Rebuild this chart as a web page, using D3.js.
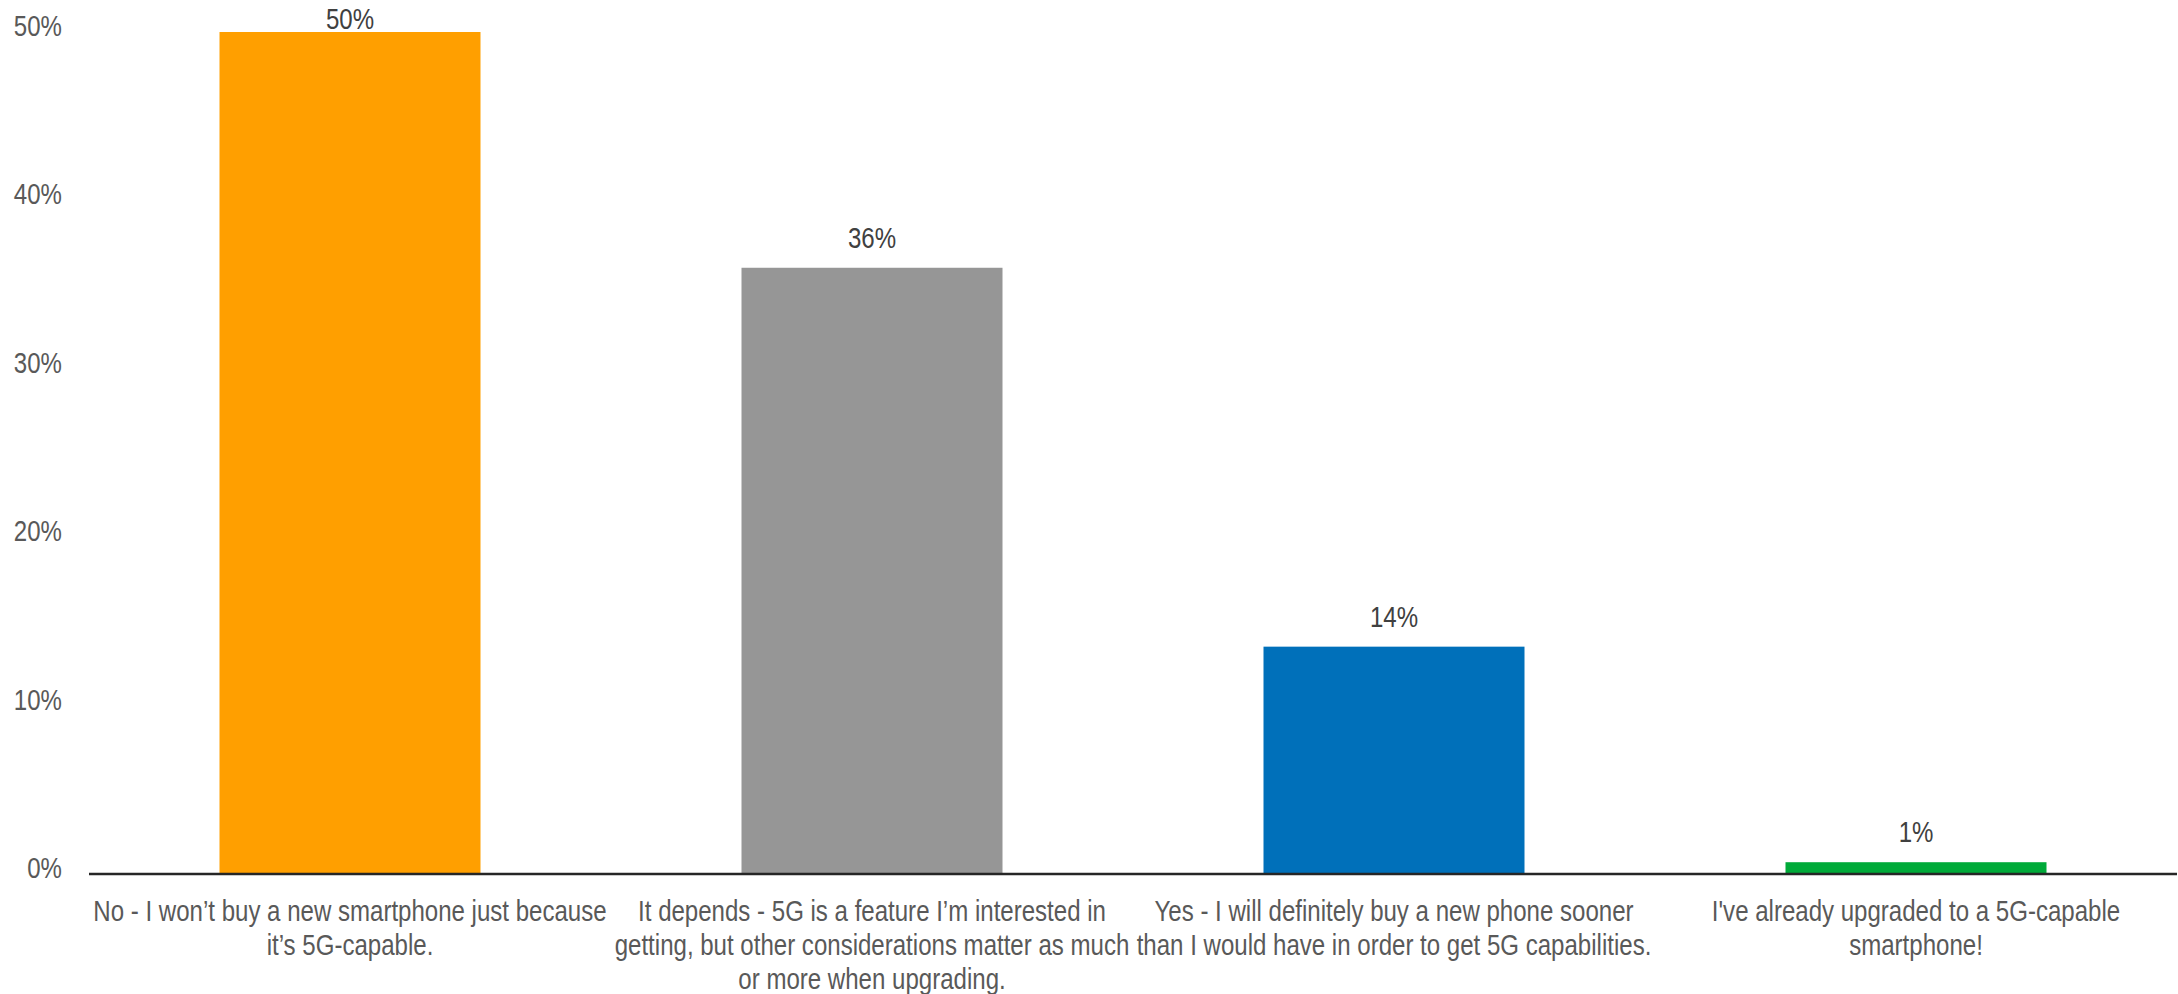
<!DOCTYPE html>
<html>
<head>
<meta charset="utf-8">
<script src="https://cdn.jsdelivr.net/npm/d3@7"></script>
<style>
  html, body { margin: 0; padding: 0; background: #fff; }
  svg { display: block; }
  .narrow { font-family: 'Liberation Sans Narrow', 'Arial Narrow', 'Liberation Sans', Arial, sans-serif; }
</style>
</head>
<body>
<svg id="chart" width="2178" height="994"></svg>
<script>
// ---- data ----
const categories = ["no", "depends", "yes", "already"];
const categoryLabels = [
  ["No - I won\u2019t buy a new smartphone just because", "it\u2019s 5G-capable."],
  ["It depends - 5G is a feature I\u2019m interested in", "getting, but other considerations matter as much", "or more when upgrading."],
  ["Yes - I will definitely buy a new phone sooner", "than I would have in order to get 5G capabilities."],
  ["I've already upgraded to a 5G-capable", "smartphone!"]
];
const values = [0.50, 0.36, 0.135, 0.007];
const valueLabels = ["50%", "36%", "14%", "1%"];
const barColors = ["#FF9F00", "#969696", "#0070BA", "#00AA39"];
const yTicks = [0, 0.1, 0.2, 0.3, 0.4, 0.5];

// ---- layout ----
const svg = d3.select("#chart");
const mLeft = 89, mRight = 2177, mTop = 32, mBottom = 874;
const fs = 29, sx = 0.83; // condensed look (Arial Narrow-like)

const x = d3.scaleBand().domain(categories).range([mLeft, mRight])
  .paddingInner(0.5).paddingOuter(0.25);
const y = d3.scaleLinear().domain([0, 0.5]).range([mBottom, mTop]);

// y axis labels
const yAxis = d3.axisLeft(y).tickValues(yTicks).tickFormat(d3.format(".0%"))
  .tickSize(0).tickPadding(0);
const yg = svg.append("g").attr("transform", "translate(62,0)").call(yAxis);
yg.select(".domain").remove();
yg.selectAll("text")
  .attr("class", "narrow")
  .attr("font-size", fs)
  .attr("fill", "#595959")
  .attr("x", 0)
  .attr("dy", "0.26em")
  .attr("transform", `translate(0,-4) scale(${sx},1)`);

// bars
svg.append("g").selectAll("rect").data(categories).join("rect")
  .attr("x", d => x(d))
  .attr("width", x.bandwidth())
  .attr("y", (d, i) => y(values[i]))
  .attr("height", (d, i) => y(0) - y(values[i]))
  .attr("fill", (d, i) => barColors[i]);

// value labels
svg.append("g").selectAll("text").data(categories).join("text")
  .attr("class", "narrow")
  .attr("transform", (d, i) =>
    `translate(${x(d) + x.bandwidth() / 2},${Math.max(y(values[i]) - 20, 29)}) scale(${sx},1)`)
  .attr("text-anchor", "middle")
  .attr("font-size", fs)
  .attr("fill", "#404040")
  .text((d, i) => valueLabels[i]);

// x axis (baseline + category labels)
const xAxis = d3.axisBottom(x).tickSize(0).tickFormat("");
const xg = svg.append("g").attr("transform", `translate(0,${mBottom})`).call(xAxis);
xg.select(".domain")
  .attr("d", `M${mLeft},0H${mRight}`)
  .attr("stroke", "#262626")
  .attr("stroke-width", 2.5);

const lab = svg.append("g");
categories.forEach((c, i) => {
  const t = lab.append("text")
    .attr("class", "narrow")
    .attr("transform", `translate(${x(c) + x.bandwidth() / 2},921) scale(${sx},1)`)
    .attr("text-anchor", "middle")
    .attr("font-size", fs)
    .attr("fill", "#595959");
  categoryLabels[i].forEach((line, j) => {
    t.append("tspan")
      .attr("x", 0)
      .attr("dy", j === 0 ? 0 : 34)
      .text(line);
  });
});
</script>
</body>
</html>
